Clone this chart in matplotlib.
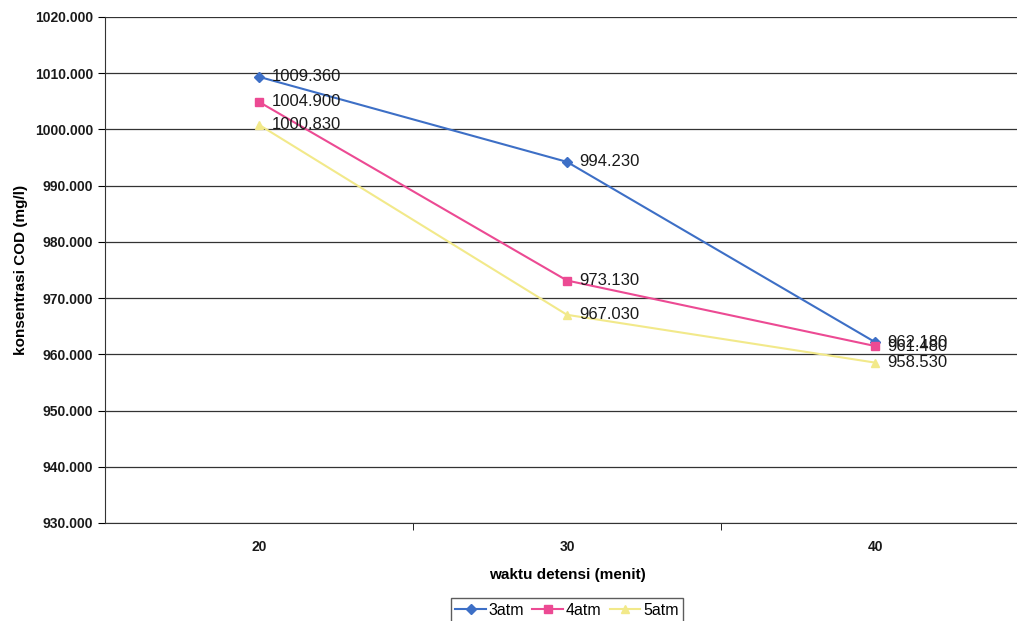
import matplotlib.pyplot as plt
from matplotlib.ticker import FormatStrFormatter

plt.rcParams['font.family'] = ['Liberation Sans', 'DejaVu Sans']

waktu = ["20", "30", "40"]
cod_3atm = [1009.360, 994.230, 962.180]
cod_4atm = [1004.900, 973.130, 961.480]
cod_5atm = [1000.830, 967.030, 958.530]

series = [
    ("3atm", cod_3atm, "#3d6fc6", "D", 5),
    ("4atm", cod_4atm, "#ec4a93", "s", 6),
    ("5atm", cod_5atm, "#f2e98a", "^", 6),
]

fig = plt.figure(figsize=(10.17, 6.21), dpi=100)
# axes runs a little past the right edge of the figure
ax = fig.add_axes([105 / 1017, 1 - 523 / 621, 924 / 1017, 506 / 621])

x = list(range(1, len(waktu) + 1))
for name, vals, color, marker, ms in series:
    ax.plot(x, vals, color=color, marker=marker, markersize=ms, linewidth=1.5, label=name)
    for xi, v in zip(x, vals):
        ax.annotate(f"{v:.3f}", (xi, v), xytext=(9, 0), textcoords="offset points",
                    va="center", ha="left", fontsize=12, color="#1a1a1a")

ax.set_xlim(0.5, 3.5)
ax.set_ylim(930, 1020)
ax.set_yticks(range(930, 1021, 10))
ax.yaxis.set_major_formatter(FormatStrFormatter("%.3f"))
ax.grid(axis="y", color="#333333", linewidth=0.9)
ax.set_axisbelow(True)

# category labels centred, tick marks between categories
ax.set_xticks(x)
ax.set_xticklabels(waktu)
ax.tick_params(axis="x", length=0, pad=12)
ax.set_xticks([1.5, 2.5], minor=True)
ax.tick_params(axis="x", which="minor", length=5, direction="out")
ax.tick_params(axis="y", length=5, direction="out")
for lbl in ax.get_xticklabels() + ax.get_yticklabels():
    lbl.set_fontsize(10)
    lbl.set_fontweight("bold")
    lbl.set_color("#1a1a1a")

for side in ("top", "right"):
    ax.spines[side].set_visible(False)
for side in ("left", "bottom"):
    ax.spines[side].set_color("#333333")

ax.set_xlabel("waktu detensi (menit)", fontsize=11, fontweight="bold", labelpad=10)
ax.set_ylabel("konsentrasi COD (mg/l)", fontsize=11, fontweight="bold", labelpad=5)

leg = fig.legend(loc="lower center", bbox_to_anchor=(567 / 1017, -0.015), ncol=3,
                 frameon=True, fancybox=False, edgecolor="#333333", fontsize=11.5,
                 handlelength=1.9, columnspacing=0.5, handletextpad=0.2,
                 borderpad=0.3)

fig.savefig("out.png", dpi=100)
